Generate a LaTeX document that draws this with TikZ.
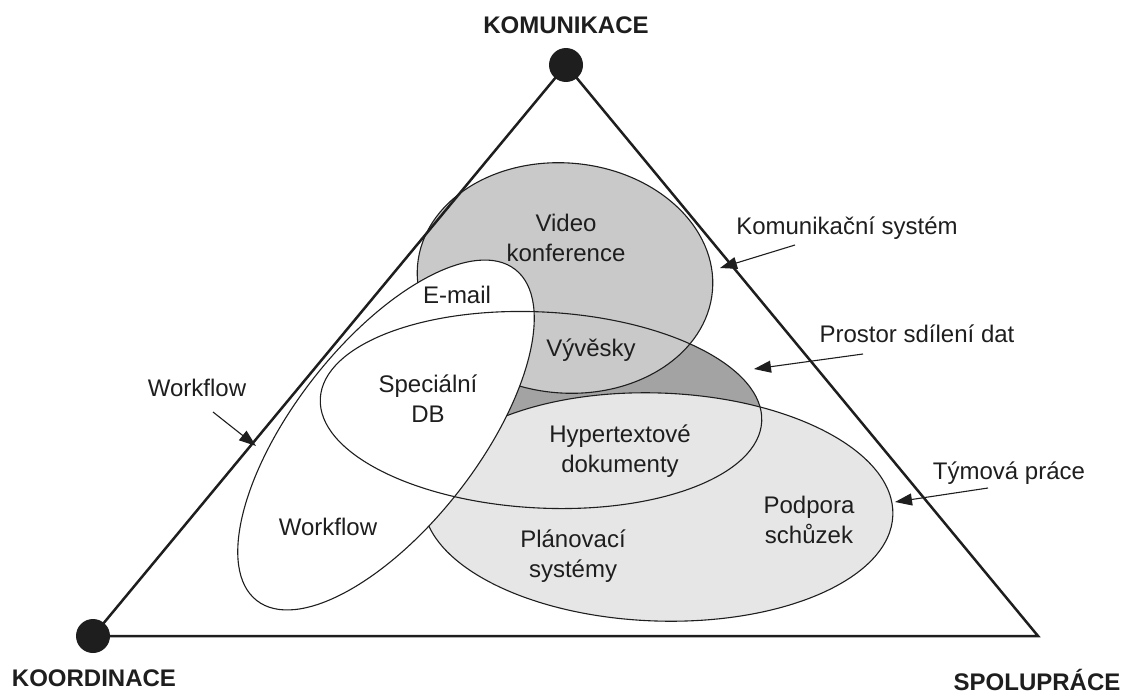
\documentclass[tikz,border=0pt]{standalone}
\usepackage{fontspec}
\setmainfont{Liberation Sans}
\usetikzlibrary{arrows.meta}
\definecolor{midgray}{HTML}{C9C9C9}
\definecolor{wedgegray}{HTML}{A3A3A3}
\definecolor{palegray}{HTML}{E6E6E6}
\definecolor{ink}{HTML}{1E1E1E}
\begin{document}
\begin{tikzpicture}[x=1pt,y=-1pt,
  outl/.style={draw=ink, line width=1.1pt},
  lbl/.style={font=\fontsize{24}{30}\selectfont, align=center, text=ink, inner sep=0pt},
  corner/.style={font=\bfseries\fontsize{24}{30}\selectfont, text=ink, inner sep=0pt},
  vdot/.style={circle, fill=ink, minimum size=34pt, inner sep=0pt},
  pointer/.style={draw=ink, line width=1.1pt, -{Triangle[length=17pt,width=12pt]}},
  edge/.style={draw=ink, line width=2.5pt, line join=miter}
]
\useasboundingbox (0,0) rectangle (1126,693);

% region fills and outlines
\fill[wedgegray, rotate around={-3:(541,410)}] (541,410) ellipse [x radius=221, y radius=98];
\path[fill=palegray, outl, rotate around={-2:(658,507)}] (658,507) ellipse [x radius=235, y radius=114];
\path[fill=midgray, outl, rotate around={-5:(565,278)}] (565,278) ellipse [x radius=148, y radius=115];
\path[fill=white, outl, rotate around={52:(386,435)}] (386,435) ellipse [x radius=210, y radius=92];
\path[outl, rotate around={-3:(541,410)}] (541,410) ellipse [x radius=221, y radius=98];

% triangle
\coordinate (vt) at (566,65);
\coordinate (vl) at (93,636);
\coordinate (vr) at (1038,636);
\path[edge] (vt) -- (vl) -- (vr) -- cycle;
\node[vdot] (dt) at (vt) {};
\node[vdot] (dl) at (vl) {};

% corner labels
\node[corner] (kom) at (566,25) {KOMUNIKACE};
\node[corner, anchor=base] (koo) at (94,686) {KOORDINACE};
\node[corner, anchor=base] (spo) at (1037,690) {SPOLUPRÁCE};

% inner labels
\node[lbl] (video) at (566,238) {Video\\konference};
\node[lbl] (email) at (457,295) {E-mail};
\node[lbl] (vyv) at (591,350) {Vývěsky};
\node[lbl] (sdb) at (428,399) {Speciální\\DB};
\node[lbl] (hyp) at (620,451) {Hypertextové\\dokumenty};
\node[lbl] (pod) at (809,520) {Podpora\\schůzek};
\node[lbl] (wfi) at (328,527) {Workflow};
\node[lbl] (plan) at (573,556) {Plánovací\\systémy};

% outer labels
\node[lbl] (ks) at (847,228) {Komunikační systém};
\node[lbl] (psd) at (917,334) {Prostor sdílení dat};
\node[lbl] (tp) at (1009,473) {Týmová práce};
\node[lbl] (wfo) at (197,388) {Workflow};

% pointers
\coordinate (ksA) at (795,245);  \coordinate (ksB) at (720,268);
\coordinate (psA) at (863,354);  \coordinate (psB) at (754,369);
\coordinate (tpA) at (988,488);  \coordinate (tpB) at (895,502);
\coordinate (wfA) at (213,412);  \coordinate (wfB) at (256,446);
\draw[pointer] (ksA) -- (ksB);
\draw[pointer] (psA) -- (psB);
\draw[pointer] (tpA) -- (tpB);
\draw[pointer] (wfA) -- (wfB);
\end{tikzpicture}
\end{document}
